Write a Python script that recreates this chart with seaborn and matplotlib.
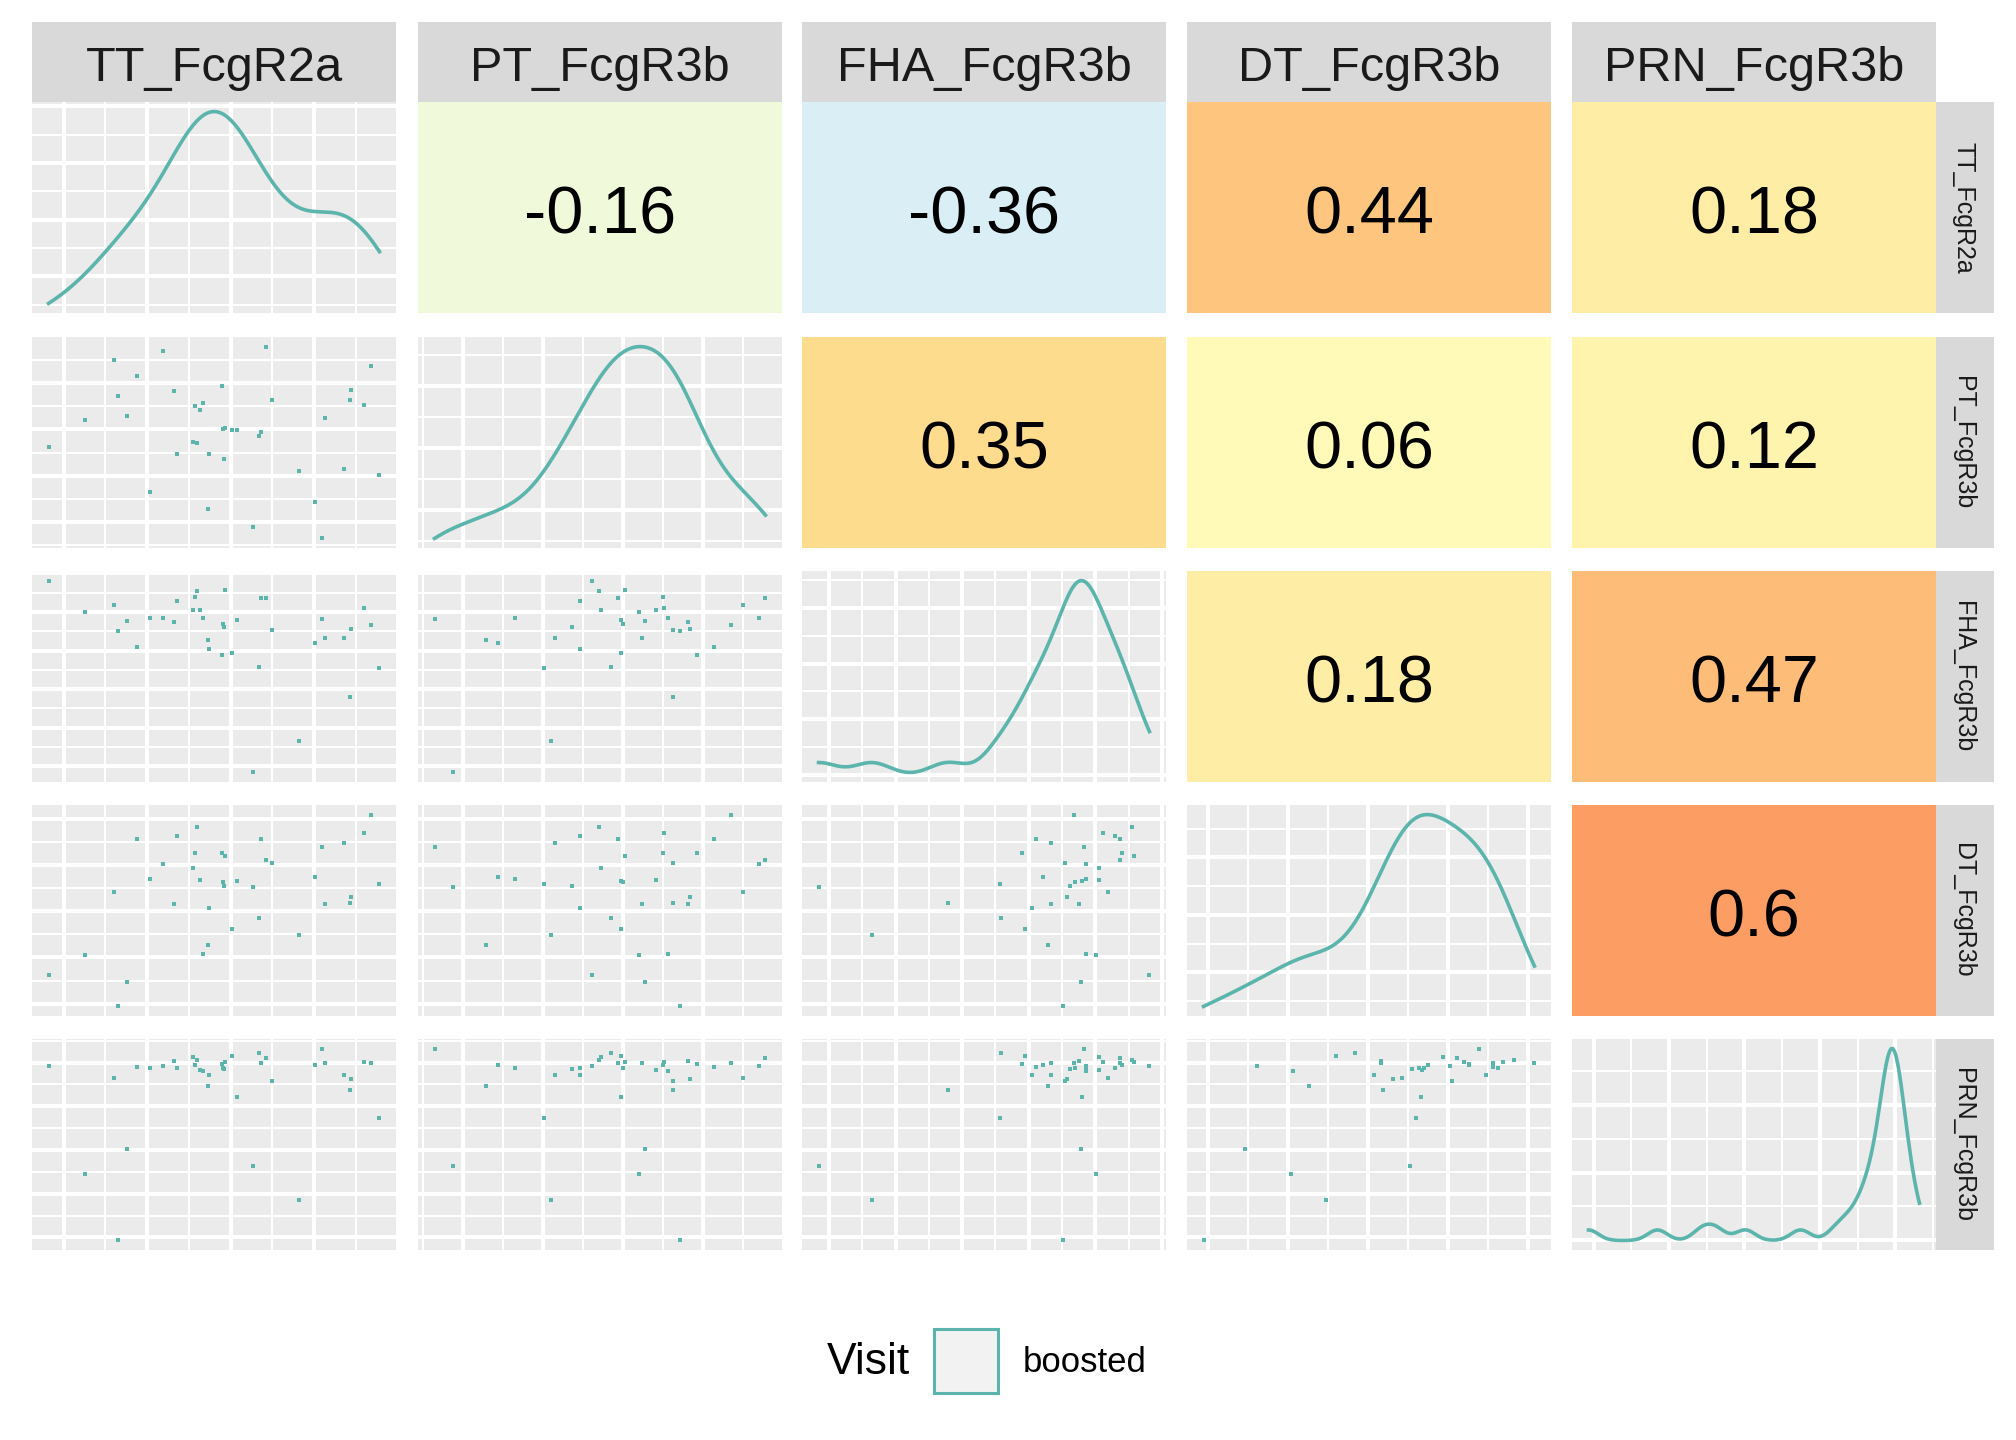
import numpy as np
import pandas as pd
import matplotlib
matplotlib.use("Agg")
import matplotlib.pyplot as plt
import seaborn as sns
from matplotlib.colors import LinearSegmentedColormap, Normalize
from matplotlib.ticker import MultipleLocator, MaxNLocator, AutoMinorLocator
from matplotlib.patches import Rectangle

plt.rcParams['font.family'] = ['Liberation Sans', 'DejaVu Sans']

## values (arbitrary units, one entry per sample)
TT_FcgR2a = [0.63, 1.71, 2.58, 2.70, 2.97, 3.27, 3.66, 4.05, 4.38, 4.47,
             4.95, 5.01, 5.07, 5.16, 5.25, 5.40, 5.43, 5.82, 5.85, 5.88,
             5.91, 6.12, 6.27, 6.75, 6.93, 6.99, 7.14, 7.32, 8.13, 8.61,
             8.82, 8.91, 9.48, 9.66, 9.69, 10.08, 10.29, 10.53]
PT_FcgR3b = [3.05, 3.86, 5.69, 4.58, 3.98, 5.18, 1.70, 5.96, 4.73, 2.84,
             3.20, 4.28, 3.17, 4.16, 4.37, 1.19, 2.84, 4.88, 3.59, 2.69,
             3.62, 3.56, 3.56, 0.62, 3.38, 3.50, 6.08, 4.46, 2.33, 1.40,
             0.29, 3.92, 2.39, 4.46, 4.76, 4.31, 5.48, 2.21]
FHA_FcgR3b = [6.11, 5.18, 5.39, 4.61, 4.91, 4.13, 5.00, 5.00, 4.88, 5.51,
              5.24, 5.63, 5.81, 5.24, 5.00, 4.34, 4.07, 3.89, 4.82, 4.73,
              5.84, 3.95, 4.94, 0.35, 3.53, 5.60, 5.60, 4.64, 1.28, 4.25,
              4.97, 4.40, 4.40, 2.60, 4.67, 5.30, 4.79, 3.50]
DT_FcgR3b = [1.26, 1.86, 3.78, 0.33, 1.05, 5.37, 4.17, 4.62, 3.42, 5.46,
             4.50, 4.95, 5.73, 4.14, 1.89, 2.16, 3.30, 4.95, 4.08, 3.96,
             4.86, 2.64, 4.11, 3.93, 2.97, 5.37, 4.74, 4.65, 2.46, 4.23,
             5.13, 3.42, 5.25, 3.45, 3.63, 5.55, 6.09, 4.02]
PRN_FcgR3b = [5.61, 2.34, 5.25, 0.36, 3.09, 5.58, 5.55, 5.61, 5.76, 5.55,
              5.88, 5.64, 5.79, 5.49, 5.46, 5.01, 5.34, 5.67, 5.55, 5.52,
              5.73, 5.91, 4.68, 2.58, 6.00, 5.70, 5.85, 5.16, 1.56, 5.64,
              6.12, 5.70, 5.34, 4.89, 5.22, 5.73, 5.70, 4.05]

variables = ['TT_FcgR2a', 'PT_FcgR3b', 'FHA_FcgR3b', 'DT_FcgR3b', 'PRN_FcgR3b']
visit_levels = ['boosted']

# correlations printed in the upper panels, row by row
corr_values = [-0.16, -0.36, 0.44, 0.18,
               0.35, 0.06, 0.12,
               0.18, 0.47,
               0.6]

df = pd.DataFrame({'TT_FcgR2a': TT_FcgR2a, 'PT_FcgR3b': PT_FcgR3b,
                   'FHA_FcgR3b': FHA_FcgR3b, 'DT_FcgR3b': DT_FcgR3b,
                   'PRN_FcgR3b': PRN_FcgR3b})
df['Visit'] = visit_levels[0]

## styling
teal = '#5BB5AC'
panel_bg = '#EBEBEB'
strip_bg = '#D9D9D9'
text_col = '#1A1A1A'
cmap = LinearSegmentedColormap.from_list(
    'rdylbu7', ['#4575B4', '#91BFDB', '#E0F3F8', '#FFFFBF', '#FEE090', '#FC8D59', '#D73027'])
norm = Normalize(vmin=-1, vmax=1)

# grid spacing (major step, offset, minor step) for each variable
grid_spec = {'TT_FcgR2a': (2.5, 1.08, 1.25),
             'PT_FcgR3b': (1.40, 0.78, 0.70),
             'FHA_FcgR3b': (1.16, 0.53, 0.58),
             'DT_FcgR3b': (1.39, 0.41, 0.695),
             'PRN_FcgR3b': (1.312, 0.45, 0.656)}

W, H = 2016, 1440
col_left = [32, 418, 802, 1187, 1572]
row_top = [102, 337, 571, 805, 1039]
pw, ph = 364, 211


def rect(x, y, w, h):
    return [x / W, 1 - (y + h) / H, w / W, h / H]


def lims(v):
    lo, hi = np.min(v), np.max(v)
    pad = (hi - lo) * 0.05
    return lo - pad, hi + pad


def set_grid(ax, xvar=None, yvar=None):
    if xvar is not None:
        mj, off, mn = grid_spec[xvar]
        ax.xaxis.set_major_locator(MultipleLocator(mj, offset=off))
        ax.xaxis.set_minor_locator(MultipleLocator(mn, offset=off))
    if yvar is not None:
        mj, off, mn = grid_spec[yvar]
        ax.yaxis.set_major_locator(MultipleLocator(mj, offset=off))
        ax.yaxis.set_minor_locator(MultipleLocator(mn, offset=off))
    ax.set_axisbelow(True)
    ax.grid(which='major', color='white', linewidth=2.9)
    ax.grid(which='minor', color='white', linewidth=1.45)


def clean(ax):
    ax.tick_params(which='both', length=0, labelbottom=False, labelleft=False)
    for s in ax.spines.values():
        s.set_visible(False)
    ax.set_xlabel('')
    ax.set_ylabel('')


fig = plt.figure(figsize=(W / 100, H / 100), dpi=100)

k = 0
for i, yv in enumerate(variables):
    for j, xv in enumerate(variables):
        ax = fig.add_axes(rect(col_left[j], row_top[i], pw, ph))
        if i > j:
            # lower triangle: scatter
            ax.set_facecolor(panel_bg)
            sns.scatterplot(data=df, x=xv, y=yv, ax=ax, color=teal, marker='s',
                            s=9, linewidth=0, legend=False)
            ax.set_xlim(lims(df[xv]))
            ax.set_ylim(lims(df[yv]))
            set_grid(ax, xv, yv)
        elif i == j:
            # diagonal: density with R's default bandwidth (nrd0)
            ax.set_facecolor(panel_bg)
            v = df[xv].values
            sd = np.std(v, ddof=1)
            iqr = np.subtract(*np.percentile(v, [75, 25]))
            bw = 0.9 * min(sd, iqr / 1.34) * len(v) ** -0.2
            sns.kdeplot(x=v, ax=ax, bw_method=bw / sd, cut=0, color=teal, linewidth=2.6)
            yd = ax.lines[0].get_ydata()
            ax.set_xlim(lims(v))
            ax.set_ylim(lims(yd))
            ax.yaxis.set_major_locator(MaxNLocator(4))
            ax.yaxis.set_minor_locator(AutoMinorLocator(2))
            set_grid(ax, xv, None)
        else:
            # upper triangle: correlation tile
            r = corr_values[k]
            k += 1
            ax.set_facecolor(cmap(norm(r)))
            ax.text(0.5, 0.378, f'{r:g}', ha='center', va='baseline', fontsize=48,
                    color='black', transform=ax.transAxes)
        clean(ax)

# column strips on top
for j, name in enumerate(variables):
    sax = fig.add_axes(rect(col_left[j], 22, pw, 80))
    sax.set_facecolor(strip_bg)
    sax.text(0.5, 0.26, name, ha='center', va='baseline', fontsize=35,
             color=text_col, transform=sax.transAxes)
    clean(sax)

# row strips on the right
for i, name in enumerate(variables):
    sax = fig.add_axes(rect(1936, row_top[i], 58, ph))
    sax.set_facecolor(strip_bg)
    sax.text(0.47, 0.5, name, ha='center', va='center', rotation=270, fontsize=18,
             color=text_col, transform=sax.transAxes)
    clean(sax)

# legend at the bottom
fig.text(827 / W, 1 - 1363 / H, 'Visit', ha='left', va='center', fontsize=32, color='black')
fig.patches.append(Rectangle((934 / W, 1 - 1393 / H), 64 / W, 64 / H, transform=fig.transFigure,
                             facecolor='#F2F2F2', edgecolor=teal, linewidth=2.2))
fig.text(1023 / W, 1 - 1363 / H, visit_levels[0], ha='left', va='center', fontsize=25, color='black')

fig.savefig('out.png', dpi=100, facecolor='white')
